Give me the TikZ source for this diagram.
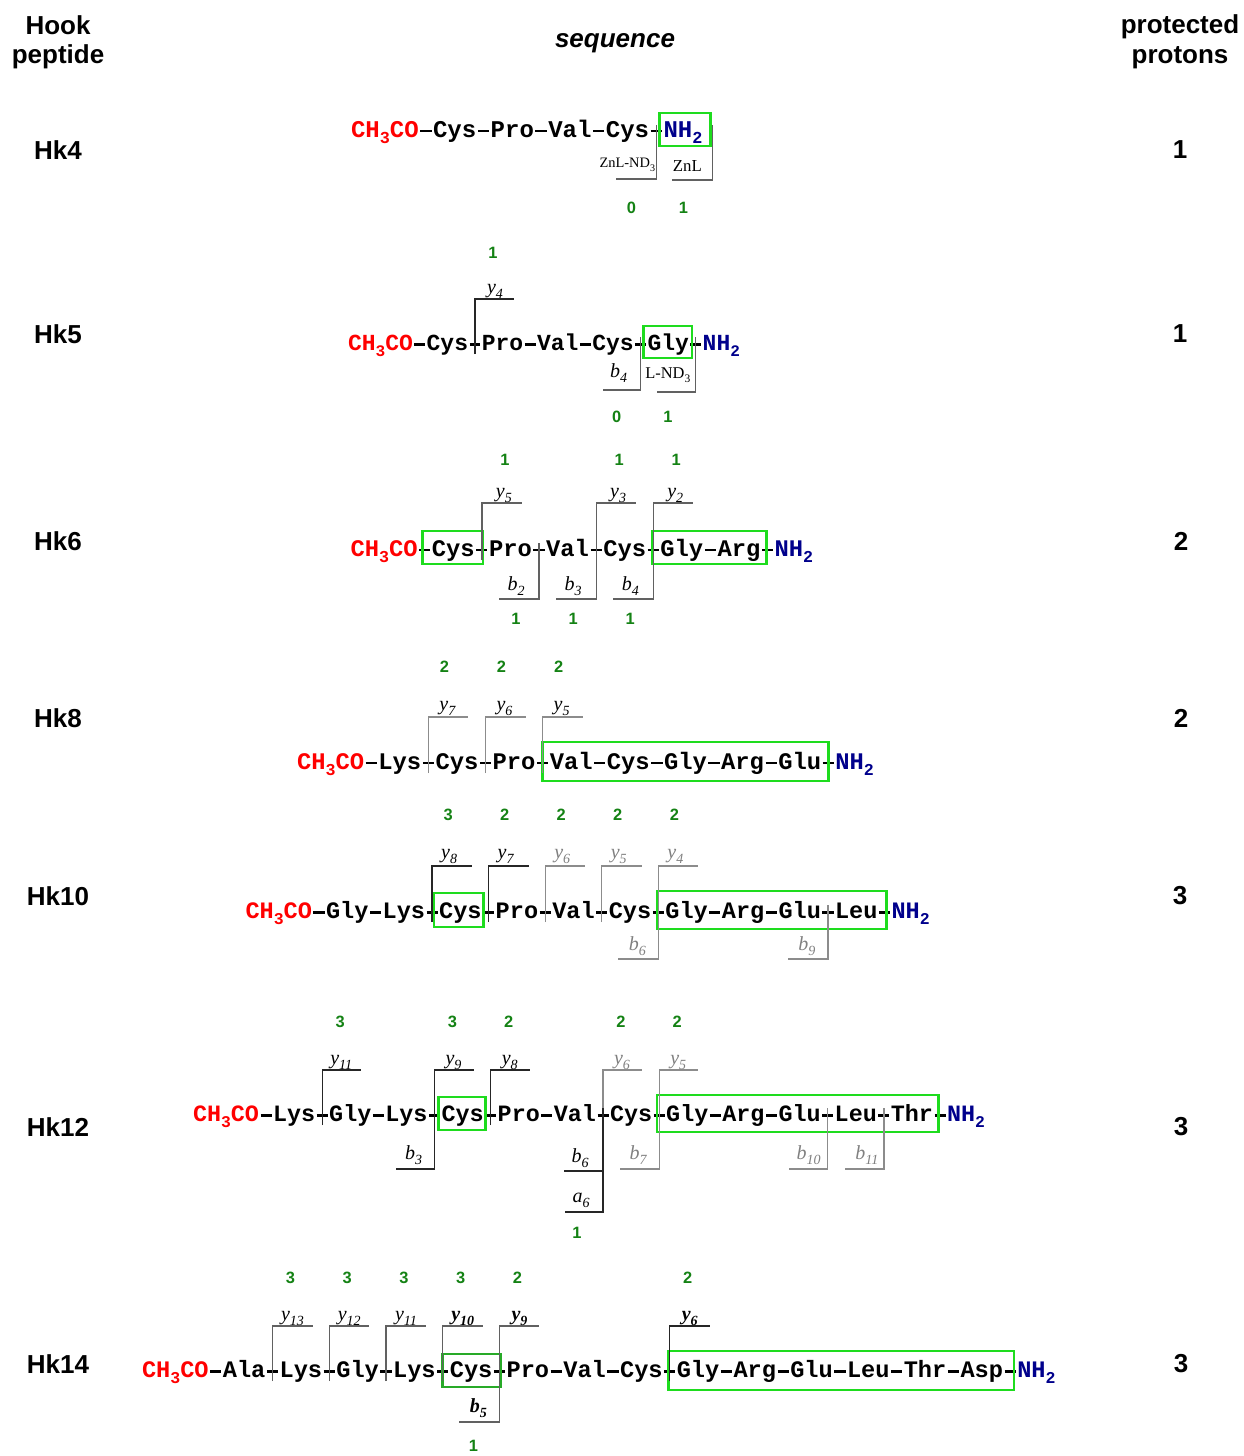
\documentclass[tikz,border=0pt]{standalone}
\usepackage{fontspec}
\usepackage{graphicx}
\setmainfont{Liberation Sans}
\newfontfamily\seqf{Liberation Mono}
\newfontfamily\labf{Liberation Serif}
\definecolor{cred}{RGB}{255,0,0}
\definecolor{cblue}{RGB}{0,0,140}
\definecolor{cgnum}{RGB}{20,130,20}
\definecolor{cbox}{RGB}{30,220,30}
\definecolor{cboxd}{RGB}{40,170,40}
\newcommand\rs{12pt}
\newcommand\sub[1]{\raisebox{-0.28em}{\scalebox{0.7}{#1}}}
\newcommand\dsh{\makebox[0.6em]{\rule[0.19em]{0.47em}{0.12em}}}
\tikzset{
 tok/.style={inner sep=0pt, outer sep=0pt, anchor=base west, font=\seqf\bfseries\fontsize{\rs}{\rs}\selectfont},
 flab/.style={inner sep=0pt, anchor=base, font=\labf\itshape\fontsize{10pt}{10pt}\selectfont},
 zlab/.style={inner sep=0pt, anchor=base, font=\labf\fontsize{#1}{#1}\selectfont},
 gnum/.style={inner sep=0pt, text=cgnum, font=\bfseries\fontsize{8.2pt}{8.2pt}\selectfont},
 hdr/.style={inner sep=0pt, font=\bfseries\fontsize{13pt}{15pt}\selectfont},
 frag/.style={line width=0.65pt, black!85},
 dk/.style={black!62},
 gr/.style={black!45},
 gb/.style={draw=cbox, line width=1.3pt},
}
\newcommand\gl[1]{\textcolor{black!50}{#1}}
\newcommand\fs[2]{#1\sub{#2}}
\newcommand\peprow[3]{%
  \node[tok, text=cred] (#1r0) at (#2,\yb) {CH\sub{3}CO};
  \foreach \res [count=\i] in {#3} {%
    \pgfmathtruncatemacro\jj{\i-1}%
    \node[tok] (#1d\jj) at (#1r\jj.base east) {\dsh};
    \node[tok] (#1r\i) at (#1d\jj.base east) {\res};
    \xdef\lastidx{\i}%
  }%
  \node[tok] (#1d\lastidx) at (#1r\lastidx.base east) {\dsh};
  \node[tok, text=cblue] (#1nh) at (#1d\lastidx.base east) {NH\sub{2}};
}
\newcommand\yfr[4][]{%
  \draw[frag,#1] (#2 |- 0,\yb+4) -- (#2 |- 0,\yb\ytop) -- ++(\ylen,0);
  \path (#2 |- 0,\yb\ylab) ++(\lx,0) node[flab] {#3};
  \path (#2 |- 0,\yb\ygr) ++(\gx,0) node[gnum] {#4};
}
\newcommand\bfr[4][]{%
  \draw[frag,#1] (#2 |- 0,\yb-13) -- (#2 |- 0,\yb\bbot) -- ++(-\blen,0);
  \path (#2 |- 0,\yb\blab) ++(\bx,0) node[flab] {#3};
  \path (#2 |- 0,\yb\bgr) ++(\bgx,0) node[gnum] {#4};
}
\newcommand\gbox[7][]{%
  \path (#2 |- 0,\yb#6) ++(#4,0) coordinate (bxA);
  \path (#3 |- 0,\yb#7) ++(#5,0) coordinate (bxB);
  \draw[gb,#1] (bxA) rectangle (bxB);
}
\begin{document}
\begin{tikzpicture}[x=0.5pt,y=-0.5pt]
\fill[white] (0,0) rectangle (1243,1456);
\useasboundingbox (0,0) rectangle (1243,1456);
% headers
\node[hdr, anchor=base] (h1) at (58,34) {Hook};
\node[hdr, anchor=base] (h2) at (58,63) {peptide};
\node[hdr, anchor=base] (h3) at (615,47) {\itshape sequence};
\node[hdr, anchor=base] (h4) at (1180,33) {protected};
\node[hdr, anchor=base] (h5) at (1180,63) {protons};
\node[hdr] (k4) at (58,150) {Hk4};
\node[hdr] (k5) at (58,334) {Hk5};
\node[hdr] (k6) at (58,541) {Hk6};
\node[hdr] (k8) at (58,718) {Hk8};
\node[hdr] (k10) at (58,896) {Hk10};
\node[hdr] (k12) at (58,1127) {Hk12};
\node[hdr] (k14) at (58,1364) {Hk14};
\node[hdr] (p4) at (1180,150) {1};
\node[hdr] (p5) at (1180,334) {1};
\node[hdr] (p6) at (1181,541) {2};
\node[hdr] (p8) at (1181,718) {2};
\node[hdr] (p10) at (1180,896) {3};
\node[hdr] (p12) at (1181,1127) {3};
\node[hdr] (p14) at (1181,1364) {3};
% ---------------- Hk4
\def\yb{137}\renewcommand\rs{12pt}
\peprow{a}{351}{Cys,Pro,Val,Cys}
\gbox{ad4}{ad4}{3}{54}{-24}{+9}
\draw[frag,dk] (ad4 |- 0,\yb-12) -- (ad4 |- 0,\yb+42) -- ++(-40,0);
\path (ad4 |- 0,\yb+30) ++(-29,0) node[zlab=7.2pt] {ZnL-ND\sub{3}};
\path (ad4 |- 0,\yb+71) ++(-25,0) node[gnum] {0};
\path (ad4 |- 0,\yb-12) ++(56,0) coordinate (az);
\draw[frag,dk] (az) -- ++(0,55) -- ++(-40,0);
\path (az) ++(-25,46) node[zlab=8.4pt] {ZnL};
\path (az) ++(-29,83) node[gnum] {1};
% ---------------- Hk5
\def\yb{350}\renewcommand\rs{11.5pt}
\peprow{b}{348}{Cys,Pro,Val,Cys,Gly}
\gbox{bd4}{bd5}{3}{-4}{-24}{+8}
\def\ytop{-51}\def\ylab{-57}\def\ygr{-97}\def\ylen{39}\def\lx{20}\def\gx{18}
\yfr{bd1}{\fs{y}{4}}{1}
\def\bbot{+40}\def\blab{+27}\def\bgr{+67}\def\blen{38}\def\bx{-22}\def\bgx{-24}
\bfr[dk]{bd4}{\fs{b}{4}}{0}
\draw[frag,dk] (bd5 |- 0,\yb-13) -- (bd5 |- 0,\yb+42) -- ++(-39,0);
\path (bd5 |- 0,\yb+28) ++(-28,0) node[zlab=8.2pt] {L-ND\sub{3}};
\path (bd5 |- 0,\yb+67) ++(-28,0) node[gnum] {1};
% ---------------- Hk6
\def\yb{556}\renewcommand\rs{11.9pt}
\peprow{c}{350.5}{Cys,Pro,Val,Cys,Gly,Arg}
\gbox{cd0}{cd1}{-2}{1}{-25}{+8}
\gbox{cd4}{cd6}{-1}{-1}{-25}{+8}
\def\ytop{-53}\def\ylab{-59}\def\ygr{-96}\def\ylen{40}\def\lx{22}\def\gx{23}
\yfr[dk]{cd1}{\fs{y}{5}}{1}
\yfr[dk]{cd3}{\fs{y}{3}}{1}
\yfr[dk]{cd4}{\fs{y}{2}}{1}
\def\bbot{+43}\def\blab{+34}\def\bgr{+63}\def\blen{40}\def\bx{-23}\def\bgx{-23}
\bfr[dk]{cd2}{\fs{b}{2}}{1}
\bfr[dk]{cd3}{\fs{b}{3}}{1}
\bfr[dk]{cd4}{\fs{b}{4}}{1}
% ---------------- Hk8
\def\yb{769}\renewcommand\rs{11.9pt}
\peprow{d}{297}{Lys,Cys,Pro,Val,Cys,Gly,Arg,Glu}
\gbox{dd3}{dd8}{0}{0}{-27}{+12}
\def\ytop{-52}\def\ylab{-59}\def\ygr{-102}\def\ylen{40}\def\lx{19}\def\gx{16}
\yfr[gr]{dd1}{\fs{y}{7}}{2}
\yfr[gr]{dd2}{\fs{y}{6}}{2}
\yfr[gr]{dd3}{\fs{y}{5}}{2}
% ---------------- Hk10
\def\yb{918}\renewcommand\rs{11.78pt}
\peprow{e}{245.5}{Gly,Lys,Cys,Pro,Val,Cys,Gly,Arg,Glu,Leu}
\gbox{ed2}{ed3}{2}{-5}{-25}{+9}
\gbox{ed6}{ed10}{-1}{2}{-27}{+11}
\def\ytop{-52}\def\ylab{-60}\def\ygr{-103}\def\ylen{40}\def\lx{17}\def\gx{16}
\yfr{ed2}{\fs{y}{8}}{3}
\yfr{ed3}{\fs{y}{7}}{2}
\yfr[gr]{ed4}{\gl{\fs{y}{6}}}{2}
\yfr[gr]{ed5}{\gl{\fs{y}{5}}}{2}
\yfr[gr]{ed6}{\gl{\fs{y}{4}}}{2}
\def\bbot{+41}\def\blab{+32}\def\bgr{+0}\def\blen{40}\def\bx{-21}\def\bgx{0}
\bfr[gr]{ed6}{\gl{\fs{b}{6}}}{}
\bfr[gr]{ed9}{\gl{\fs{b}{9}}}{}
% ---------------- Hk12
\def\yb{1121}\renewcommand\rs{11.7pt}
\peprow{f}{193}{Lys,Gly,Lys,Cys,Pro,Val,Cys,Gly,Arg,Glu,Leu,Thr}
\gbox{fd3}{fd4}{4}{-5}{-24}{+9}
\gbox{fd7}{fd12}{-2}{-1.5}{-26}{+11}
\def\ytop{-51}\def\ylab{-57}\def\ygr{-99}\def\ylen{39}\def\lx{19}\def\gx{18}
\yfr{fd1}{\fs{y}{11}}{3}
\yfr{fd3}{\fs{y}{9}}{3}
\yfr{fd4}{\fs{y}{8}}{2}
\yfr[gr]{fd6}{\gl{\fs{y}{6}}}{2}
\yfr[gr]{fd7}{\gl{\fs{y}{5}}}{2}
\def\bbot{+48}\def\blab{+38}\def\bgr{+0}\def\blen{39}\def\bx{-21}\def\bgx{0}
\bfr{fd3}{\fs{b}{3}}{}
\bfr[gr]{fd7}{\gl{\fs{b}{7}}}{}
\def\bx{-19}\bfr[gr]{fd10}{\gl{\fs{b}{10}}}{}
\def\bx{-17}\bfr[gr]{fd11}{\gl{\fs{b}{11}}}{}
\def\bbot{+50}\def\blab{+41}\def\bx{-23}\bfr{fd6}{\fs{b}{6}}{}
\draw[frag] (fd6 |- 0,\yb+50) -- (fd6 |- 0,\yb+91) -- ++(-38,0);
\path (fd6 |- 0,\yb+81) ++(-22,0) node[flab] {\fs{a}{6}};
\path (fd6 |- 0,\yb+112) ++(-26,0) node[gnum] {1};
% ---------------- Hk14
\def\yb{1377}\renewcommand\rs{11.82pt}
\peprow{g}{142}{Ala,Lys,Gly,Lys,Cys,Pro,Val,Cys,Gly,Arg,Glu,Leu,Thr,Asp}
\gbox[draw=cboxd]{gd4}{gd5}{0}{1}{-23}{+10}
\gbox{gd8}{gd14}{-1}{4}{-26}{+13}
\def\ytop{-51}\def\ylab{-57}\def\ygr{-99}\def\ylen{40}\def\lx{20}\def\gx{18}
\yfr[dk]{gd1}{\fs{y}{13}}{3}
\yfr[dk]{gd2}{\fs{y}{12}}{3}
\yfr[dk]{gd3}{\fs{y}{11}}{3}
\yfr[dk]{gd4}{\textbf{\fs{y}{10}}}{3}
\yfr[dk]{gd5}{\textbf{\fs{y}{9}}}{2}
\yfr{gd8}{\textbf{\fs{y}{6}}}{2}
\def\bbot{+45}\def\blab{+35}\def\bgr{+69}\def\blen{40}\def\bx{-21}\def\bgx{-26}
\bfr[dk]{gd5}{\textbf{\fs{b}{5}}}{1}
\end{tikzpicture}
\end{document}
